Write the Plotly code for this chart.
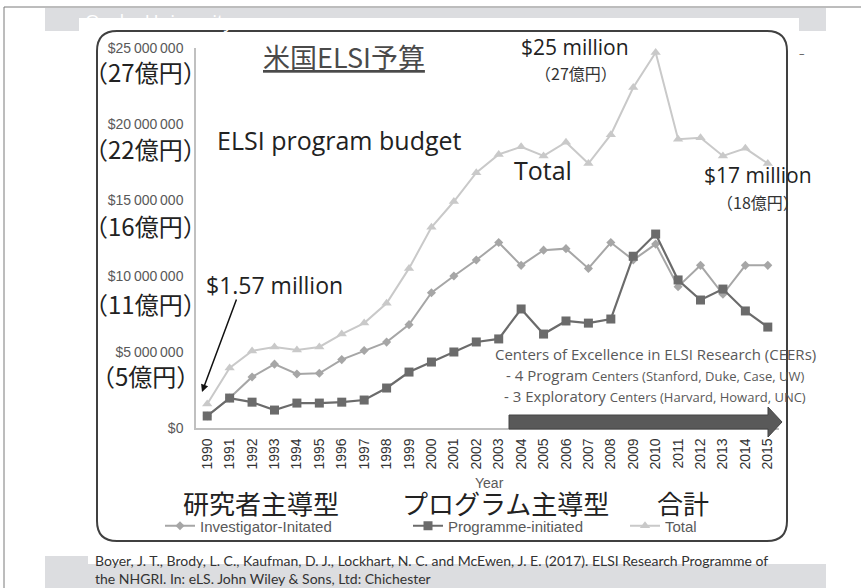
import plotly.graph_objects as go

years = [str(y) for y in range(1990, 2016)]
investigator = [0.79, 1.97, 3.36, 4.20, 3.55, 3.60, 4.50, 5.10, 5.65, 6.80, 8.90, 10.00, 11.05,
                12.20, 10.70, 11.70, 11.80, 10.50, 12.20, 11.05, 12.10, 9.30, 10.70, 8.80, 10.70, 10.70]
programme = [0.79, 1.97, 1.70, 1.18, 1.64, 1.64, 1.70, 1.84, 2.63, 3.68, 4.34, 5.00, 5.66,
             5.86, 7.83, 6.18, 7.04, 6.90, 7.17, 11.30, 12.76, 9.74, 8.42, 9.14, 7.70, 6.64]
total = [1.58, 3.95, 5.07, 5.33, 5.13, 5.33, 6.18, 6.90, 8.20, 10.50, 13.20, 14.90, 16.80,
         18.00, 18.50, 17.90, 18.80, 17.40, 19.30, 22.40, 24.70, 19.00, 19.10, 17.90, 18.40, 17.40]
investigator = [v * 1e6 for v in investigator]
programme = [v * 1e6 for v in programme]
total = [v * 1e6 for v in total]

ytick_vals = [0, 5e6, 10e6, 15e6, 20e6, 25e6]
ytick_text = ["$0", "$5\u2009000\u2009000", "$10\u2009000\u2009000", "$15\u2009000\u2009000",
              "$20\u2009000\u2009000", "$25\u2009000\u2009000"]
yen_labels = ["（5億円）", "（11億円）", "（16億円）", "（22億円）", "（27億円）"]
series_names = ["Investigator-Initated", "Programme-initiated", "Total"]

W, H = 861, 588
L, R, T, B = 196, 779, 48, 428
PW, PH = R - L, B - T


def px(x):
    return (x - L) / PW


def py(y):
    return (B - y) / PH


fig = go.Figure()
fig.add_trace(go.Scatter(x=years, y=investigator, name=series_names[0], mode="lines+markers",
                         line=dict(color="#a6a6a6", width=2),
                         marker=dict(symbol="diamond", size=7, color="#a6a6a6"),
                         legend="legend"))
fig.add_trace(go.Scatter(x=years, y=total, name=series_names[2], mode="lines+markers",
                         line=dict(color="#c9c9c9", width=2),
                         marker=dict(symbol="triangle-up", size=9, color="#c9c9c9"),
                         legend="legend3"))
fig.add_trace(go.Scatter(x=years, y=programme, name=series_names[1], mode="lines+markers",
                         line=dict(color="#6b6b6b", width=2.2),
                         marker=dict(symbol="square", size=9, color="#6b6b6b"),
                         legend="legend2"))

shapes = []
# outer border lines
shapes.append(dict(type="line", xref="paper", yref="paper", x0=px(4), x1=px(861), y0=py(7), y1=py(7),
                   line=dict(color="#7a7a7a", width=1), layer="below"))
shapes.append(dict(type="line", xref="paper", yref="paper", x0=px(4), x1=px(4), y0=py(7), y1=py(588),
                   line=dict(color="#7a7a7a", width=1), layer="below"))
# top gray band + white box
shapes.append(dict(type="rect", xref="paper", yref="paper", x0=px(45), x1=px(826), y0=py(8), y1=py(31),
                   fillcolor="#dcdde0", line=dict(width=0), layer="below"))
shapes.append(dict(type="rect", xref="paper", yref="paper", x0=px(79), x1=px(799), y0=py(18), y1=py(40),
                   fillcolor="white", line=dict(width=0), layer="below"))
# bottom gray band
shapes.append(dict(type="rect", xref="paper", yref="paper", x0=px(45), x1=px(826), y0=py(564), y1=py(588),
                   fillcolor="#dcdde0", line=dict(width=0), layer="below"))
shapes.append(dict(type="rect", xref="paper", yref="paper", x0=px(45), x1=px(88), y0=py(556), y1=py(588),
                   fillcolor="#dcdde0", line=dict(width=0), layer="below"))

# rounded frame
fl, fr, ft, fb, rad = 97, 787, 31, 541, 20


def P(x, y):
    return f"{px(x):.5f},{py(y):.5f}"


path = (f"M {P(fl + rad, ft)} L {P(fr - rad, ft)} Q {P(fr, ft)} {P(fr, ft + rad)} "
        f"L {P(fr, fb - rad)} Q {P(fr, fb)} {P(fr - rad, fb)} "
        f"L {P(fl + rad, fb)} Q {P(fl, fb)} {P(fl, fb - rad)} "
        f"L {P(fl, ft + rad)} Q {P(fl, ft)} {P(fl + rad, ft)} Z")
shapes.append(dict(type="path", xref="paper", yref="paper", path=path,
                   line=dict(color="#404040", width=2), layer="below"))

# CEERs arrow
arr = (f"M {P(509, 415)} L {P(768, 415)} L {P(768, 407)} L {P(782, 422)} "
       f"L {P(768, 437)} L {P(768, 429)} L {P(509, 429)} Z")
shapes.append(dict(type="path", xref="paper", yref="paper", path=arr,
                   fillcolor="#595959", line=dict(color="#444444", width=1), layer="above"))

ann = []
OS = "'Open Sans', sans-serif"
LAT = "Lato, sans-serif"
CJK = "'Noto Sans CJK JP', sans-serif"


def A(text, x, y, size, color="#222222", family=OS, xanchor="center", **kw):
    ann.append(dict(text=text, x=px(x), y=py(y), xref="paper", yref="paper", showarrow=False,
                    xanchor=xanchor, yanchor="middle", font=dict(size=size, color=color, family=family), **kw))


# y yen labels
for lab, yy in zip(yen_labels, [375, 303, 225, 148, 72]):
    A(lab, 145, yy, 24, "#222222", CJK)

A("<u>米国ELSI予算</u>", 344, 57, 27, "#4a4a4a", CJK)
A("ELSI program budget", 339, 140, 25, "#222222")
A("Total", 543, 170, 25, "#222222")
A("$25 million", 575, 47, 21, "#222222")
A("（27億円）", 576, 73, 16, "#333333", CJK)
A("$17 million", 758, 175, 21, "#222222")
A("（18億円）", 758, 202, 16, "#333333", CJK)
A("$1.57 million", 274, 285, 23, "#222222")
A("Centers of Excellence in ELSI Research (CEERs)", 655, 354, 15, "#595959")
A("- 4 Program <span style='font-size:13px'>Centers (Stanford, Duke, Case, UW)</span>", 655, 375, 15, "#595959")
A("- 3 Exploratory <span style='font-size:13px'>Centers (Harvard, Howard, UNC)</span>", 655, 396, 15, "#595959")
A("Year", 489, 483, 14, "#595959", "'Liberation Sans', Arial, sans-serif")
A("研究者主導型", 261, 502, 26, "#222222", CJK)
A("プログラム主導型", 505, 502, 26, "#222222", CJK)
A("合計", 683, 502, 26, "#222222", CJK)
A("Osaka University", 83, 21, 19, "#ffffff", xanchor="left")
A("–", 802, 52, 11, "#555555")
A("Boyer, J. T., Brody, L. C., Kaufman, D. J., Lockhart, N. C. and McEwen, J. E. (2017). ELSI Research Programme of"
  "<br>the NHGRI. In: eLS. John Wiley &amp; Sons, Ltd: Chichester", 93, 569, 14, "#333333",
  family=LAT, xanchor="left", align="left")

# arrow for $1.57 million
ann.append(dict(x=px(202), y=py(392), xref="paper", yref="paper", text="", showarrow=True,
                ax=237 - 202, ay=298 - 392, arrowhead=2, arrowsize=1, arrowwidth=1.5, arrowcolor="#111111",
                axref="pixel", ayref="pixel"))

legend_font = dict(family="'Liberation Sans', Arial, sans-serif", size=15, color="#595959")


def leg(xpix):
    return dict(x=px(xpix), y=py(526), xanchor="left", yanchor="middle", orientation="h",
                font=legend_font, bgcolor="rgba(0,0,0,0)", borderwidth=0, itemwidth=30)


fig.update_layout(
    width=W, height=H,
    margin=dict(l=L, r=W - R, t=T, b=H - B, pad=0, autoexpand=False),
    paper_bgcolor="white", plot_bgcolor="rgba(0,0,0,0)",
    showlegend=True,
    legend=leg(202 - 42), legend2=leg(450 - 42), legend3=leg(667 - 42),
    xaxis=dict(type="category", range=[-0.5, 25.5], showgrid=False, zeroline=False,
               showline=True, linecolor="#c0c0c0", linewidth=1.5, ticks="",
               tickangle=-90, tickfont=dict(family="'Liberation Sans', Arial, sans-serif", size=14,
                                            color="#333333"),
               ticklabelstandoff=3),
    yaxis=dict(range=[0, 25e6], showgrid=False, zeroline=False, showline=True, linecolor="#c0c0c0",
               linewidth=1.5, ticks="", tickvals=ytick_vals, ticktext=ytick_text,
               tickfont=dict(family="'Liberation Sans', Arial, sans-serif", size=14, color="#595959"),
               ticklabelstandoff=8),
    shapes=shapes, annotations=ann,
)

fig.write_html("out.html", config={"displayModeBar": False},
               post_script="document.body.style.margin='0';")
